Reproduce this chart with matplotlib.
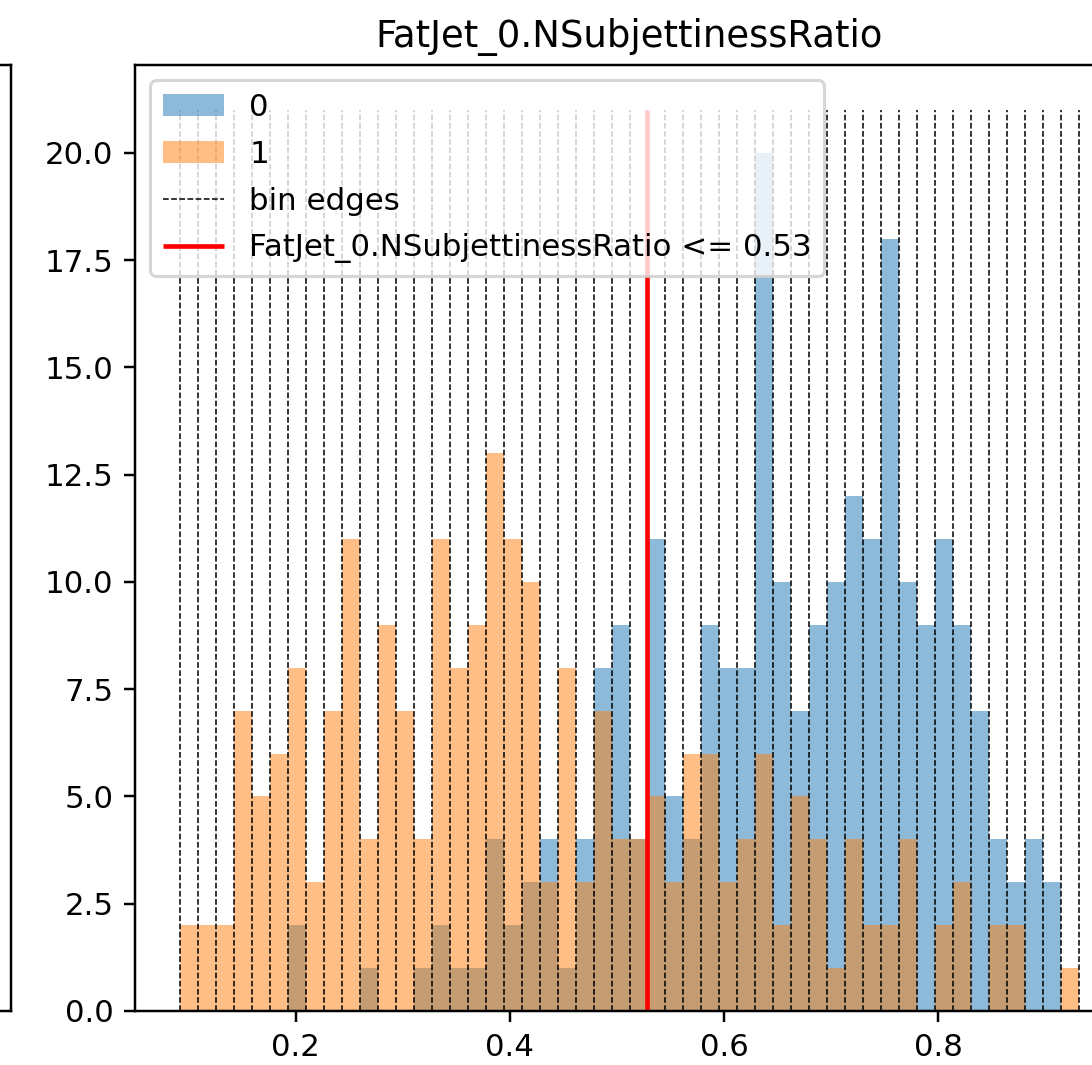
import numpy as np
import matplotlib
matplotlib.use("Agg")
import matplotlib.pyplot as plt

DPI = 222
W, H = 1092, 1065

feature = "FatJet_0.NSubjettinessRatio"
threshold = 0.5285

# histogram binning: 50 equal-width bins
bin_lo, bin_hi, n_bins = 0.0917, 0.9317, 50

# counts per bin, class 0 and class 1
counts_0 = [0, 0, 0, 0, 0, 0, 2, 0, 0, 0,
            1, 0, 0, 1, 2, 1, 1, 4, 2, 3,
            4, 1, 4, 8, 9, 4, 11, 5, 4, 9,
            8, 8, 20, 10, 7, 9, 10, 12, 11, 18,
            10, 9, 11, 9, 7, 4, 3, 4, 3, 0]
counts_1 = [2, 2, 2, 7, 5, 6, 8, 3, 7, 11,
            4, 9, 7, 4, 11, 8, 9, 13, 11, 10,
            3, 8, 3, 7, 4, 4, 5, 3, 6, 6,
            3, 4, 6, 2, 5, 4, 1, 4, 2, 2,
            4, 0, 2, 3, 0, 2, 2, 0, 0, 1]

edges = np.linspace(bin_lo, bin_hi, n_bins + 1)
centers = 0.5 * (edges[:-1] + edges[1:])
line_top = max(max(counts_0), max(counts_1)) + 1

fig = plt.figure(figsize=(W / DPI, H / DPI), dpi=DPI)

# neighbouring panel (only its right edge falls inside the figure)
ax_prev = fig.add_axes([-978 / W, 54 / H, 989 / W, 946 / H])
ax_prev.set_xticks([])
ax_prev.set_yticks([])

ax = fig.add_axes([135 / W, 54 / H, 989 / W, 946 / H])
ax.hist(centers, bins=edges, weights=counts_0, alpha=0.5, label="0")
ax.hist(centers, bins=edges, weights=counts_1, alpha=0.5, label="1")
ax.vlines(edges, 0, line_top, colors="k", linestyles="--", linewidth=0.5,
          label="bin edges")
ax.vlines(threshold, 0, line_top, colors="red",
          label=f"{feature} <= {threshold:.2f}")
ax.set_title(feature)
ax.legend(loc="upper left", labelspacing=0.58)

fig.savefig("out.png", dpi=DPI)
